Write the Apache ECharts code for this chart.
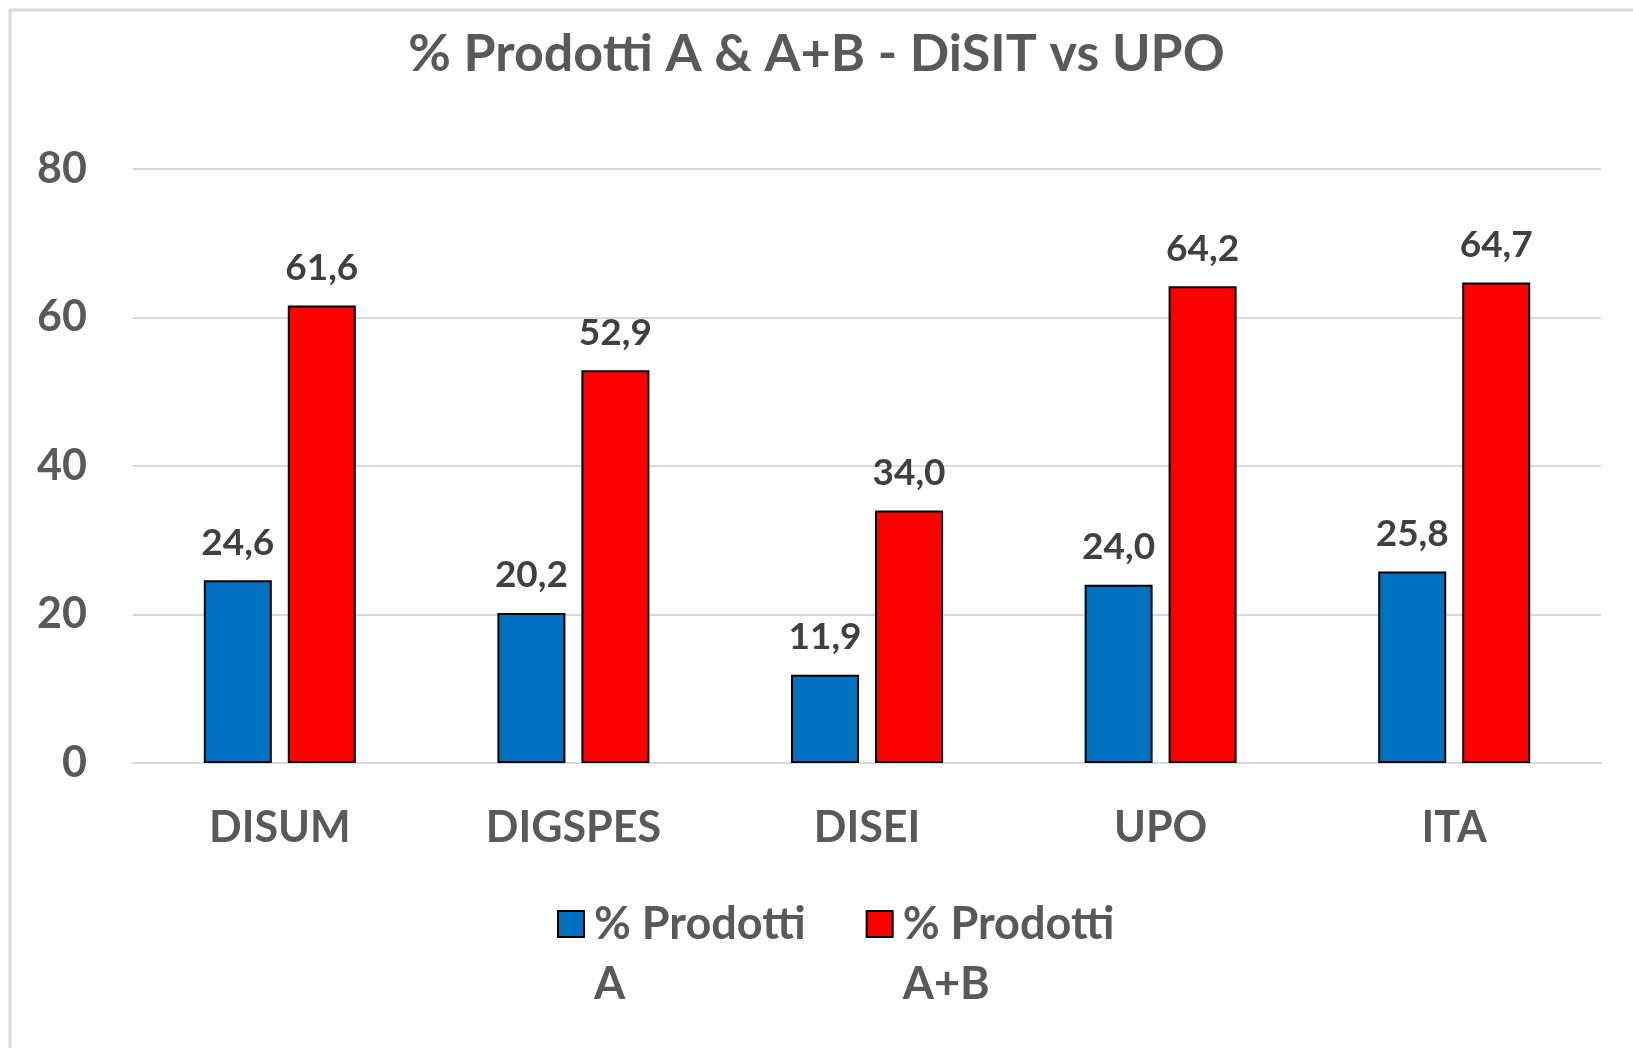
<!DOCTYPE html>
<html>
<head>
<meta charset="utf-8">
<script src="https://cdn.jsdelivr.net/npm/echarts@6/dist/echarts.min.js"></script>
<style>
    html, body { margin: 0; padding: 0; background: #fff; }
    #chart { width: 1633px; height: 1048px; }
</style>
</head>
<body>
<div id="chart"></div>
<script>
    var categories = ['DISUM', 'DIGSPES', 'DISEI', 'UPO', 'ITA'];
    var seriesNames = ['% Prodotti A', '% Prodotti A+B'];
    var valuesA = [24.6, 20.2, 11.9, 24.0, 25.8];
    var valuesAB = [61.6, 52.9, 34.0, 64.2, 64.7];
    var yTicks = [0, 20, 40, 60, 80];

    var font = 'Lato';
    var gray = '#595959';

    function fmt(p) {
        return p.value.toFixed(1).replace('.', ',');
    }

    var chart = echarts.init(document.getElementById('chart'));
    chart.setOption({
        animation: false,
        textStyle: { fontFamily: font },
        title: {
            text: '% Prodotti A & A+B - DiSIT vs UPO',
            left: 'center',
            top: 23,
            textStyle: { fontFamily: font, fontSize: 52, fontWeight: 'bold', color: gray }
        },
        graphic: [{
            type: 'rect',
            shape: { x: 10, y: 10, width: 1700, height: 1100 },
            style: { fill: 'none', stroke: '#d9d9d9', lineWidth: 3 },
            silent: true
        }],
        grid: { left: 133, right: 32, top: 169, bottom: 285 },
        legend: {
            left: 552,
            top: 829,
            icon: 'rect',
            itemWidth: 26,
            itemHeight: 26,
            itemGap: 60,
            data: seriesNames,
            itemStyle: { borderColor: '#000', borderWidth: 2 },
            // leading blank line keeps the marker level with the first text line
            formatter: function (name) { return '\n' + name.replace('Prodotti ', 'Prodotti\n'); },
            textStyle: {
                fontFamily: font, fontSize: 45, fontWeight: 'bold', color: gray,
                lineHeight: 60, padding: [0, 0, 0, 5]
            }
        },
        xAxis: {
            type: 'category',
            data: categories,
            axisLine: { lineStyle: { color: '#d9d9d9', width: 2 } },
            axisTick: { show: false },
            axisLabel: { fontFamily: font, fontSize: 43, fontWeight: 'bold', color: gray, margin: 44 }
        },
        yAxis: {
            type: 'value',
            min: yTicks[0],
            max: yTicks[yTicks.length - 1],
            interval: 20,
            axisLine: { show: false },
            axisTick: { show: false },
            splitLine: { lineStyle: { color: '#d9d9d9', width: 2 } },
            axisLabel: { fontFamily: font, fontSize: 43, fontWeight: 'bold', color: gray, margin: 46 }
        },
        series: [{
            name: seriesNames[0],
            type: 'bar',
            data: valuesA,
            barWidth: 68,
            barGap: '23.5%',
            itemStyle: { color: '#0070c0', borderColor: '#000', borderWidth: 2 },
            label: {
                show: true, position: 'top', distance: 19, formatter: fmt,
                fontFamily: font, fontSize: 37, fontWeight: 'bold', color: '#404040'
            }
        }, {
            name: seriesNames[1],
            type: 'bar',
            data: valuesAB,
            barWidth: 68,
            itemStyle: { color: '#ff0000', borderColor: '#000', borderWidth: 2 },
            label: {
                show: true, position: 'top', distance: 19, formatter: fmt,
                fontFamily: font, fontSize: 37, fontWeight: 'bold', color: '#404040'
            }
        }]
    });
</script>
</body>
</html>
